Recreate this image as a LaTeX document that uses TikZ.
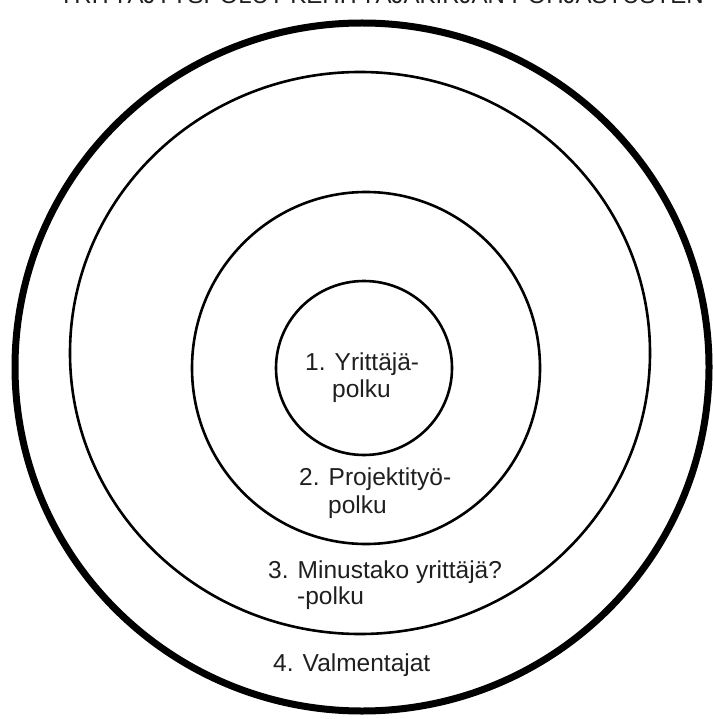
\documentclass[tikz,border=0pt]{standalone}
\usepackage{fontspec}
\setmainfont{Liberation Sans}
\begin{document}
\begin{tikzpicture}[x=1pt,y=-1pt,
  ring/.style={draw=black,line width=2.6pt},
  outerring/.style={draw=black,line width=7pt},
  lbl/.style={anchor=base west,inner sep=0pt,font=\fontsize{24.5}{28}\selectfont,text=black!88}]
\useasboundingbox (0,0) rectangle (712,719);
\fill[white] (0,0) rectangle (712,719);
\begin{scope}
\clip (0,0) rectangle (712,719);
\node[anchor=base,inner sep=0pt,font=\fontsize{24}{28}\selectfont,text=black!88] (title) at (381,4) {YRITTÄJYYSPOLUT KEHITTÄJÄKIRJAN POHJASTUSTEN};
\end{scope}
\draw[outerring] (362,367) ellipse [x radius=347, y radius=344];
\draw[ring] (360,353) ellipse [x radius=290, y radius=281];
\draw[ring] (366,368) ellipse [x radius=174, y radius=176];
\draw[ring] (364,368) ellipse [x radius=88, y radius=87];
\node[lbl] (a1) at (305,370) {1. Yrittäjä-};
\node[lbl] (a2) at (332,397) {polku};
\node[lbl] (b1) at (299,485) {2. Projektityö-};
\node[lbl] (b2) at (328,513) {polku};
\node[lbl] (c1) at (268,578) {3. Minustako yrittäjä?};
\node[lbl] (c2) at (297,604) {-polku};
\node[lbl] (d1) at (273,671) {4. Valmentajat};
\end{tikzpicture}
\end{document}
